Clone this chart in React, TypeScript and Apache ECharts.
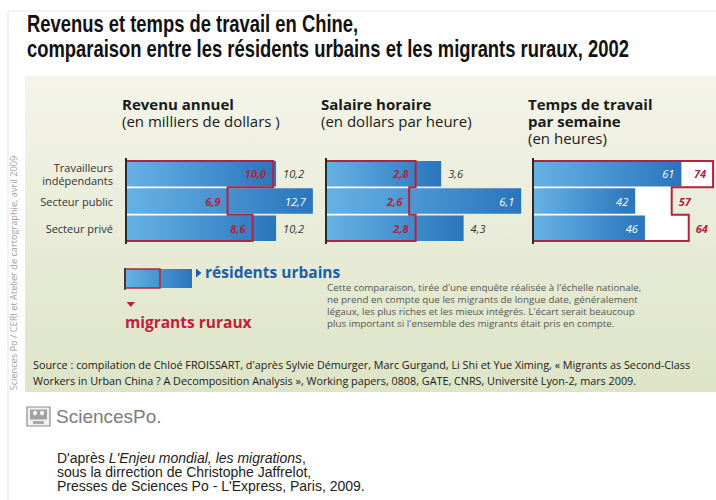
import React, { useEffect, useRef } from "react";
import * as echarts from "echarts";

// ---------- data ----------
const categories = ["Travailleurs\nindépendants", "Secteur public", "Secteur privé"];
const revenuUrbains = [10.2, 12.7, 10.2];
const revenuMigrants = [10.0, 6.9, 8.6];
const salaireUrbains = [3.6, 6.1, 4.3];
const salaireMigrants = [2.8, 2.6, 2.8];
const tempsUrbains = [61, 42, 46];
const tempsMigrants = [74, 57, 64];

const titleLines = [
  "Revenus et temps de travail en Chine,",
  "comparaison entre les résidents urbains et les migrants ruraux, 2002",
];
const noteLines = [
  "Cette comparaison, tirée d'une enquête réalisée à l'échelle nationale,",
  "ne prend en compte que les migrants de longue date, généralement",
  "légaux, les plus riches et les mieux intégrés. L'écart serait beaucoup",
  "plus important si l'ensemble des migrants était pris en compte.",
];
const sourceLines = [
  "Source : compilation de Chloé FROISSART, d'après Sylvie Démurger, Marc Gurgand, Li Shi et Yue Ximing, « Migrants as Second-Class",
  "Workers in Urban China ? A Decomposition Analysis », Working papers, 0808, GATE, CNRS, Université Lyon-2, mars 2009.",
];
const creditLines = [
  "D'après {i|L'Enjeu mondial, les migrations},",
  "sous la dirrection de Christophe Jaffrelot,",
  "Presses de Sciences Po - L'Express, Paris, 2009.",
];

// ---------- styles ----------
const FONT = "'Open Sans', sans-serif";
const ARIAL = "'Liberation Sans', Arial, sans-serif";
const RED = "#b1243d";
const BLUE_TXT = "#1d5ea8";
const BAR_W = 25.5;
const GRID_TOP = 160;
const GRID_H = 82;

const panels = [
  {
    urb: revenuUrbains, mig: revenuMigrants, max: 14, left: 126, width: 206, dec: 1,
    urbInside: [false, true, false], migInside: [true, true, true],
    title: ["Revenu annuel"], sub: "(en milliers de dollars )", tx: 122,
  },
  {
    urb: salaireUrbains, mig: salaireMigrants, max: 7, left: 326, width: 224, dec: 1,
    urbInside: [false, true, false], migInside: [true, true, true],
    title: ["Salaire horaire"], sub: "(en dollars par heure)", tx: 321,
  },
  {
    urb: tempsUrbains, mig: tempsMigrants, max: 75, left: 533, width: 182.5, dec: 0,
    urbInside: [true, true, true], migInside: [true, false, false],
    title: ["Temps de travail", "par semaine"], sub: "(en heures)", tx: 528,
  },
];

const fmt = (v: number, dec: number) => v.toFixed(dec).replace(".", ",");

const barGrad = () =>
  new echarts.graphic.LinearGradient(0, 0, 1, 0, [
    { offset: 0, color: "#66b2e5" },
    { offset: 1, color: "#2a75bc" },
  ]);

function outline(api: any, mig: number[]) {
  const half = BAR_W / 2;
  const band = Math.abs(api.size([0, 1])[1]);
  const c = mig.map((v, k) => api.coord([v, k]));
  const x0 = api.coord([0, 0])[0];
  const top = c[0][1] - half;
  const bottom = c[2][1] + half;
  const b1 = c[0][1] + band / 2;
  const b2 = c[1][1] + band / 2;
  return {
    x0, top, bottom,
    pts: [
      [x0, top], [c[0][0], top], [c[0][0], b1], [c[1][0], b1],
      [c[1][0], b2], [c[2][0], b2], [c[2][0], bottom], [x0, bottom],
    ],
  };
}

function txt(x: number, y: number, text: string, o: any = {}) {
  return {
    type: "text",
    x, y, z: 10,
    rotation: o.rotation || 0,
    scaleX: o.scaleX || 1,
    style: {
      text,
      fontSize: o.size || 12,
      fontFamily: o.family || FONT,
      fontWeight: o.weight || "normal",
      fontStyle: o.style || "normal",
      fill: o.color || "#222",
      lineHeight: o.lh,
      align: o.align || "left",
      textAlign: o.align || "left",
      verticalAlign: o.va || "middle",
      textVerticalAlign: o.va || "middle",
      rich: o.rich,
    },
  };
}

function buildOption() {
  const grid: any[] = [];
  const xAxis: any[] = [];
  const yAxis: any[] = [];
  const series: any[] = [];

  panels.forEach((p, i) => {
    grid.push({ left: p.left, top: GRID_TOP, width: p.width, height: GRID_H });
    xAxis.push({ type: "value", gridIndex: i, min: 0, max: p.max, show: false });
    yAxis.push({
      type: "category", gridIndex: i, data: categories, inverse: true,
      axisTick: { show: false }, axisLine: { show: false }, splitLine: { show: false },
      axisLabel: {
        show: i === 0, margin: 13, fontSize: 11, lineHeight: 13,
        fontFamily: FONT, color: "#333", align: "right",
      },
    });
    series.push({
      type: "custom", xAxisIndex: i, yAxisIndex: i, z: 1, silent: true,
      data: [[0, 0]],
      renderItem: (_params: any, api: any) => {
        const o = outline(api, p.mig);
        return { type: "polygon", shape: { points: o.pts }, style: { fill: "#ffffff" } };
      },
    });
    series.push({
      type: "bar", xAxisIndex: i, yAxisIndex: i, z: 2, barWidth: BAR_W, barGap: "-100%",
      itemStyle: { color: barGrad() },
      label: {
        show: true, fontSize: 11, fontStyle: "italic", fontFamily: FONT, distance: 7,
        formatter: (d: any) => fmt(d.value, p.dec),
      },
      data: p.urb.map((v, k) => ({
        value: v,
        label: {
          position: p.urbInside[k] ? "insideRight" : "right",
          color: p.urbInside[k] ? "#ffffff" : "#333333",
        },
      })),
    });
    series.push({
      type: "bar", xAxisIndex: i, yAxisIndex: i, z: 2, barWidth: BAR_W, barGap: "-100%",
      itemStyle: { color: "rgba(0,0,0,0)" },
      label: {
        show: true, fontSize: 11, fontStyle: "italic", fontWeight: "bold",
        fontFamily: FONT, color: RED, distance: 7,
        formatter: (d: any) => fmt(d.value, p.dec),
      },
      data: p.mig.map((v, k) => ({
        value: v,
        label: { position: p.migInside[k] ? "insideRight" : "right" },
      })),
    });
    series.push({
      type: "custom", xAxisIndex: i, yAxisIndex: i, z: 4, silent: true,
      data: [[0, 0]],
      renderItem: (_params: any, api: any) => {
        const o = outline(api, p.mig);
        return {
          type: "group",
          children: [
            { type: "polyline", shape: { points: o.pts }, style: { stroke: RED, lineWidth: 2, fill: "none" } },
            {
              type: "line",
              shape: { x1: o.x0, y1: o.top - 3, x2: o.x0, y2: o.bottom + 3 },
              style: { stroke: "#2a2a2a", lineWidth: 2 },
            },
          ],
        };
      },
    });
  });

  const bg = new echarts.graphic.LinearGradient(0, 0, 0, 1, [
    { offset: 0, color: "#f4f4ea" },
    { offset: 1, color: "#dde4c6" },
  ]);

  const graphic: any[] = [
    { type: "rect", z: 0, shape: { x: 25, y: 76, width: 691, height: 316 }, style: { fill: bg } },
    { type: "line", z: 0, shape: { x1: 8, y1: 11, x2: 716, y2: 11 }, style: { stroke: "#e6e6e6", lineWidth: 1 } },
    { type: "line", z: 0, shape: { x1: 8, y1: 11, x2: 8, y2: 500 }, style: { stroke: "#e6e6e6", lineWidth: 1 } },
    txt(27, 23.5, titleLines[0], { size: 23, family: ARIAL, weight: "bold", color: "#111", scaleX: 0.8, lh: 23 }),
    txt(27, 49, titleLines[1], { size: 23, family: ARIAL, weight: "bold", color: "#111", scaleX: 0.8, lh: 23 }),
  ];

  // panel titles: one rich text block each
  const titleRich = {
    b: { fontFamily: FONT, fontSize: 15, fontWeight: "bold", fill: "#1a1a1a", color: "#1a1a1a", lineHeight: 17 },
    r: { fontFamily: FONT, fontSize: 15, fontWeight: "normal", fill: "#1a1a1a", color: "#1a1a1a", lineHeight: 17 },
  };
  panels.forEach((p) => {
    const block = p.title.map((t) => `{b|${t}}`).join("\n") + "\n" + `{r|${p.sub}}`;
    graphic.push(txt(p.tx, 95.5, block, { size: 15, color: "#1a1a1a", lh: 17, va: "top", rich: titleRich }));
  });

  // legend
  graphic.push(
    { type: "rect", z: 5, shape: { x: 125, y: 269, width: 67, height: 19 }, style: { fill: barGrad() } },
    { type: "rect", z: 6, shape: { x: 125, y: 269, width: 35, height: 19 }, style: { fill: "none", stroke: RED, lineWidth: 1.5 } },
    { type: "line", z: 7, shape: { x1: 125, y1: 268, x2: 125, y2: 290 }, style: { stroke: "#2a2a2a", lineWidth: 1.5 } },
    { type: "polygon", z: 7, shape: { points: [[196, 268.5], [201.5, 273], [196, 277.5]] }, style: { fill: BLUE_TXT } },
    txt(205, 272, "résidents urbains", { size: 15.5, weight: "bold", color: BLUE_TXT }),
    { type: "polygon", z: 7, shape: { points: [[126.5, 302], [135, 302], [130.75, 307]] }, style: { fill: "#c21d3a" } },
    txt(125, 322, "migrants ruraux", { size: 15.5, weight: "bold", color: "#c21d3a" }),
  );

  // note
  graphic.push(txt(327, 281, noteLines.join("\n"), { size: 9.8, color: "#555", lh: 12, va: "top" }));

  // source
  graphic.push(txt(33, 364, sourceLines[0], { size: 10.8, color: "#1a1a1a", lh: 13 }));
  graphic.push(txt(33, 380, sourceLines[1], { size: 10.8, color: "#1a1a1a", lh: 13 }));

  // vertical credit
  graphic.push(
    txt(13, 273, "Sciences Po / CERI et Atelier de cartographie, avril 2009", {
      size: 9.2, color: "#a0a0a0", rotation: Math.PI / 2, align: "center",
    }),
  );

  // logo + bottom credits
  graphic.push(
    { type: "rect", z: 5, shape: { x: 27, y: 407, width: 23, height: 19 }, style: { fill: "#f2f2f2", stroke: "#8a8a8a", lineWidth: 1.2 } },
    { type: "rect", z: 6, shape: { x: 30, y: 409.5, width: 17, height: 10 }, style: { fill: "#a0a0a0" } },
    { type: "circle", z: 7, shape: { cx: 35, cy: 413, r: 2.2 }, style: { fill: "#f2f2f2" } },
    { type: "circle", z: 7, shape: { cx: 42, cy: 413, r: 2.2 }, style: { fill: "#f2f2f2" } },
    { type: "rect", z: 6, shape: { x: 33, y: 421, width: 11, height: 3 }, style: { fill: "#a8a8a8" } },
    txt(56, 416, "SciencesPo.", { size: 19, family: ARIAL, color: "#7c7c7c" }),
    txt(57, 451, creditLines.join("\n"), {
      size: 14, family: ARIAL, color: "#222", lh: 14, va: "top",
      rich: { i: { fontStyle: "italic", fontSize: 14, fontFamily: ARIAL, fill: "#222", color: "#222", lineHeight: 14 } },
    }),
  );

  return {
    animation: false,
    backgroundColor: "#ffffff",
    grid, xAxis, yAxis, series, graphic,
  };
}

export default function App() {
  const ref = useRef<HTMLDivElement>(null);
  useEffect(() => {
    document.body.style.margin = "0";
    const chart = echarts.init(ref.current!, null, { renderer: "svg" });
    chart.setOption(buildOption() as any);
    return () => chart.dispose();
  }, []);
  return <div ref={ref} style={{ width: 716, height: 500 }} />;
}
